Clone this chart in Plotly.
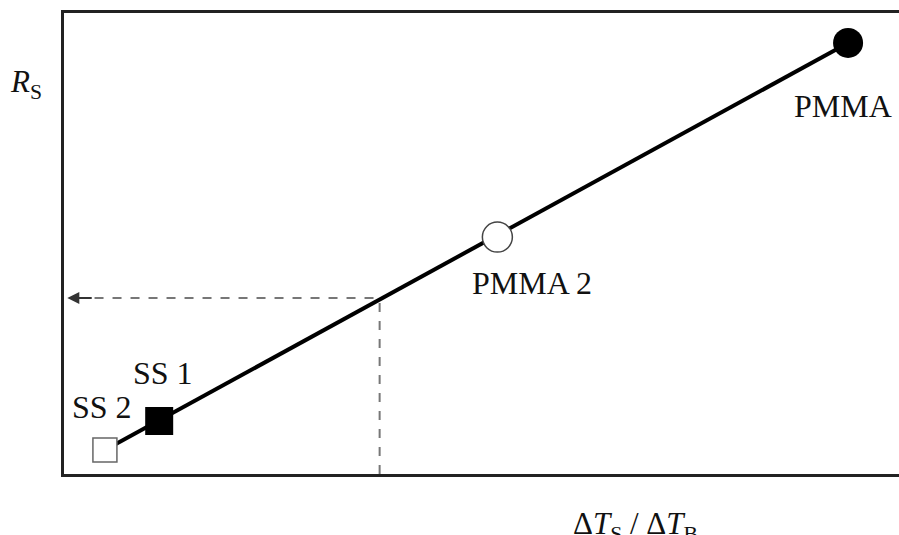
import plotly.graph_objects as go

# Data (arbitrary units; x = ΔT_S/ΔT_B, y = R_S)
labels = ["SS 2", "SS 1", "PMMA 2", "PMMA"]
x_vals = [0.49, 1.14, 5.19, 9.39]
y_vals = [0.52, 1.15, 5.14, 9.35]
read_x = 3.78
read_y = 3.82

FONT = "Liberation Serif, Times New Roman, serif"

fig = go.Figure()

# fitted line
fig.add_trace(go.Scatter(x=[x_vals[0], x_vals[-1]], y=[y_vals[0], y_vals[-1]],
                         mode="lines", line=dict(color="black", width=4),
                         hoverinfo="skip", showlegend=False))

symbols = ["square-open", "square", "circle-open", "circle"]
sizes = [24, 28, 30, 30]
colors = ["#666666", "black", "#444444", "black"]
for i in range(4):
    if "open" in symbols[i]:
        marker = dict(symbol="square" if "square" in symbols[i] else "circle",
                      size=sizes[i], color="white",
                      line=dict(color=colors[i], width=1.5))
    else:
        marker = dict(symbol=symbols[i], size=sizes[i], color="black",
                      line=dict(color="black", width=0))
    fig.add_trace(go.Scatter(x=[x_vals[i]], y=[y_vals[i]], mode="markers",
                             marker=marker, showlegend=False, name=labels[i]))

# dashed reading lines
fig.add_shape(type="line", x0=read_x, x1=read_x, y0=0, y1=read_y,
              line=dict(color="#777777", width=2, dash="dash"), layer="below")
fig.add_shape(type="line", x0=0.15, x1=read_x, y0=read_y, y1=read_y,
              line=dict(color="#777777", width=2, dash="dash"), layer="below")
fig.add_annotation(x=0.04, y=read_y, ax=0.35, ay=read_y, axref="x", ayref="y",
                   xref="x", yref="y", text="", showarrow=True,
                   arrowhead=2, arrowsize=1.2, arrowwidth=2, arrowcolor="#333333")

# point labels
offsets = [(-3, 43), (4, 48), (35, -46), (-5, -63)]
for i in range(4):
    fig.add_annotation(x=x_vals[i], y=y_vals[i], text=labels[i], showarrow=False,
                       xshift=offsets[i][0], yshift=offsets[i][1],
                       font=dict(family=FONT, size=32, color="#111111"))

# axis titles
fig.add_annotation(xref="paper", yref="paper", x=-0.045, y=0.846,
                   xanchor="center", yanchor="middle",
                   text="<i>R</i><sub>S</sub>", showarrow=False,
                   font=dict(family=FONT, size=31, color="#111111"))
fig.add_annotation(xref="paper", yref="paper", x=0.684, y=-0.066,
                   xanchor="center", yanchor="top",
                   text="Δ<i>T</i><sub>S</sub> / Δ<i>T</i><sub>B</sub>",
                   showarrow=False,
                   font=dict(family=FONT, size=31, color="#111111"))

fig.update_xaxes(range=[0, 10], showline=True, linecolor="#222222", linewidth=2.5,
                 mirror=True, showgrid=False, zeroline=False, showticklabels=False,
                 ticks="")
fig.update_yaxes(range=[0, 10], showline=True, linecolor="#222222", linewidth=2.5,
                 mirror=False, showgrid=False, zeroline=False, showticklabels=False,
                 ticks="")

fig.update_layout(width=899, height=535, margin=dict(l=64, r=0, t=13, b=61),
                  plot_bgcolor="white", paper_bgcolor="white", showlegend=False)

fig.write_html("out.html", config={"displayModeBar": False},
               post_script="document.body.style.margin='0px';document.body.style.overflow='hidden';")
